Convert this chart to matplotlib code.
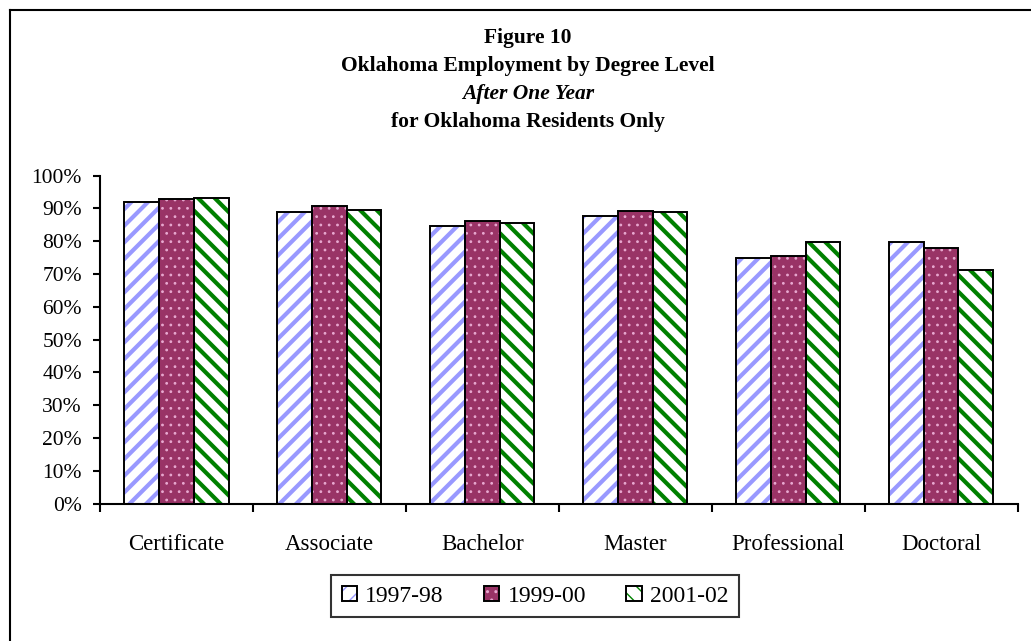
import matplotlib.pyplot as plt
from matplotlib.patches import Patch
from matplotlib.lines import Line2D
import numpy as np

plt.rcParams['font.family'] = 'Liberation Serif'

# Dados
categorias = ['Certificate', 'Associate', 'Bachelor', 'Master', 'Professional', 'Doctoral']
anos = ['1997-98', '1999-00', '2001-02']
v1997 = [0.921, 0.890, 0.848, 0.877, 0.749, 0.799]
v1999 = [0.929, 0.909, 0.862, 0.892, 0.756, 0.780]
v2001 = [0.933, 0.895, 0.855, 0.889, 0.799, 0.713]
valores = [v1997, v1999, v2001]

# Estilos
fundo = ['white', '#993366', 'white']
corHachura = ['#9999FF', '#E8A8D0', '#008000']
hachura = ['//', '..', '\\\\']
espessura = [3.0, 0.8, 3.0]
largura = 0.227

fig = plt.figure(figsize=(10.31, 6.41), dpi=100)
ax = fig.add_axes([0.097, 0.2142, 0.890, 0.5117])

x = np.arange(len(categorias))
handles = []
for k in range(3):
    pos = x + (k - 1) * largura
    with plt.rc_context({'hatch.linewidth': espessura[k]}):
        barras = ax.bar(pos, valores[k], largura, color=fundo[k], hatch=hachura[k],
                        edgecolor=corHachura[k], linewidth=0, zorder=2)
        h1 = Patch(facecolor=fundo[k], hatch=hachura[k], edgecolor=corHachura[k], linewidth=0)
    for b in list(barras) + [h1]:
        if hasattr(b, 'set_hatch_linewidth'):
            b.set_hatch_linewidth(espessura[k])
    ax.bar(pos, valores[k], largura, fill=False, edgecolor='black',
           linewidth=1.4, zorder=3)
    h2 = Patch(fill=False, edgecolor='black', linewidth=1.4)
    handles.append((h1, h2))

ax.set_xlim(-0.5, len(categorias) - 0.5)
ax.set_ylim(0, 1)
ax.set_yticks(np.arange(0, 1.01, 0.1))
ax.set_yticklabels(['%d%%' % (v * 10) for v in range(11)])
ax.set_xticks(np.arange(-0.5, len(categorias), 1.0))
ax.set_xticklabels([])
ax.set_xticks(x, minor=True)
ax.set_xticklabels(categorias, minor=True)
ax.tick_params(axis='x', which='minor', length=0, pad=22, labelsize=16.5)
ax.tick_params(axis='x', which='major', length=6, width=1.5, direction='out')
ax.tick_params(axis='y', length=5, width=1.5, pad=8, labelsize=15.5)

for s in ['top', 'right']:
    ax.spines[s].set_visible(False)
for s in ['left', 'bottom']:
    ax.spines[s].set_linewidth(1.5)

# Titulos
fig.text(0.512, 0.941, 'Figure 10', ha='center', va='center', fontsize=15.5, fontweight='bold')
fig.text(0.512, 0.897, 'Oklahoma Employment by Degree Level', ha='center', va='center',
         fontsize=15.5, fontweight='bold')
fig.text(0.512, 0.853, 'After One Year', ha='center', va='center', fontsize=15.5,
         fontweight='bold', style='italic')
fig.text(0.512, 0.810, 'for Oklahoma Residents Only', ha='center', va='center',
         fontsize=15.5, fontweight='bold')

leg = fig.legend(handles, anos, loc='center', bbox_to_anchor=(0.519, 0.070), ncol=3,
                 fontsize=17, frameon=True, fancybox=False, handlelength=0.65,
                 handleheight=0.65, handletextpad=0.35, columnspacing=1.7,
                 borderpad=0.45, borderaxespad=0)
leg.get_frame().set_edgecolor('black')
leg.get_frame().set_linewidth(1.5)

# Moldura
fig.add_artist(Line2D([0.0097, 1.0], [0.9844, 0.9844], color='black', linewidth=1.5))
fig.add_artist(Line2D([0.0097, 0.0097], [0.0, 0.9844], color='black', linewidth=1.5))

plt.savefig('out.png')
